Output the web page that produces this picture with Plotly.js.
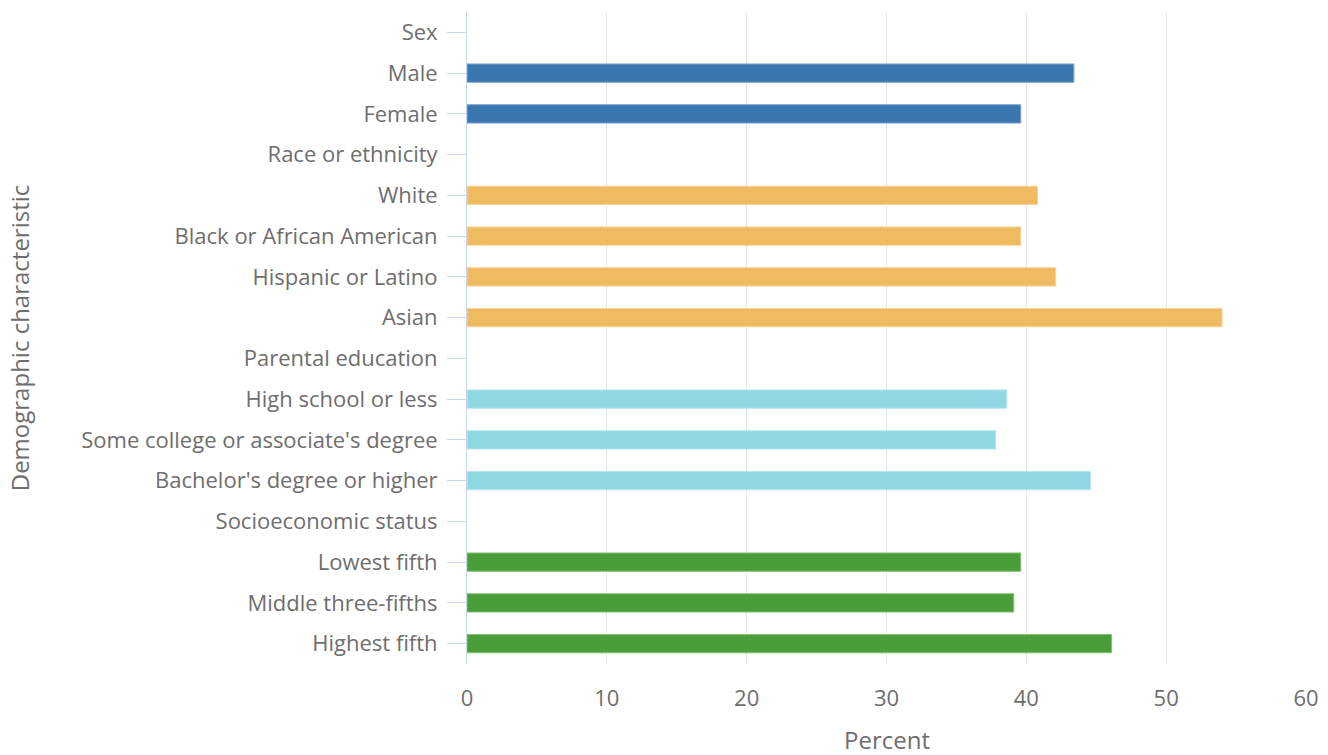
<!DOCTYPE html>
<html><head><meta charset="utf-8">
<script src="https://cdn.plot.ly/plotly-3.0.1.min.js"></script>
<style>html,body{margin:0;padding:0;background:#fff;}#chart{width:1328px;height:755px;}</style>
</head><body><div id="chart"></div>
<script>
const categories = ["Sex","Male","Female","Race or ethnicity","White","Black or African American","Hispanic or Latino","Asian","Parental education","High school or less","Some college or associate's degree","Bachelor's degree or higher","Socioeconomic status","Lowest fifth","Middle three-fifths","Highest fifth"];
const sexCats = ["Male","Female"];
const sexVals = [43.4, 39.6];
const raceCats = ["White","Black or African American","Hispanic or Latino","Asian"];
const raceVals = [40.8, 39.6, 42.1, 54.0];
const eduCats = ["High school or less","Some college or associate's degree","Bachelor's degree or higher"];
const eduVals = [38.6, 37.8, 44.6];
const sesCats = ["Lowest fifth","Middle three-fifths","Highest fifth"];
const sesVals = [39.6, 39.1, 46.1];
const colors = ["#3a76b0","#f0bb60","#8ed8e4","#4a9e3a"];
const borders = ["#7ba2cc","#f5d49a","#b6e7ef","#86c07a"];

const groups = [[sexCats,sexVals],[raceCats,raceVals],[eduCats,eduVals],[sesCats,sesVals]];
const traces = groups.map((g,i)=>({
  type:'bar', orientation:'h', y:g[0], x:g[1],
  marker:{color:colors[i], line:{color:borders[i], width:1}},
  hoverinfo:'x+y', showlegend:false
}));

const layout = {
  width:1328, height:755,
  margin:{l:467, r:22, t:12, b:91},
  barmode:'overlay', bargap:0.55,
  paper_bgcolor:'#fff', plot_bgcolor:'#fff',
  font:{family:'"Open Sans", sans-serif', color:'#6e6e6e', size:22},
  xaxis:{range:[0,60], dtick:10, tick0:0, showgrid:true, gridcolor:'#e6e6e6', gridwidth:1,
    zeroline:false, showline:false, ticks:'', ticklabelstandoff:19, tickfont:{size:22,color:'#6e6e6e'},
    fixedrange:true},
  yaxis:{type:'category', categoryorder:'array', categoryarray:categories.slice().reverse(),
    autorange:false, range:[-0.5, categories.length-0.5],
    showline:true, linecolor:'#ccd6eb', linewidth:1, ticks:'outside', ticklen:19, tickcolor:'#ccd6eb',
    showgrid:false, zeroline:false, ticklabelstandoff:5, tickfont:{size:22,color:'#6e6e6e'},
    title:{text:'Demographic characteristic', font:{size:24,color:'#6e6e6e'}, standoff:44}, fixedrange:true},
  annotations:[{text:'Percent', xref:'paper', yref:'paper', x:0.5, y:0, yshift:-75,
    xanchor:'center', yanchor:'middle', showarrow:false, font:{size:24,color:'#6e6e6e'}}]
};
Plotly.newPlot('chart', traces, layout, {displayModeBar:false, staticPlot:true});
</script></body></html>
